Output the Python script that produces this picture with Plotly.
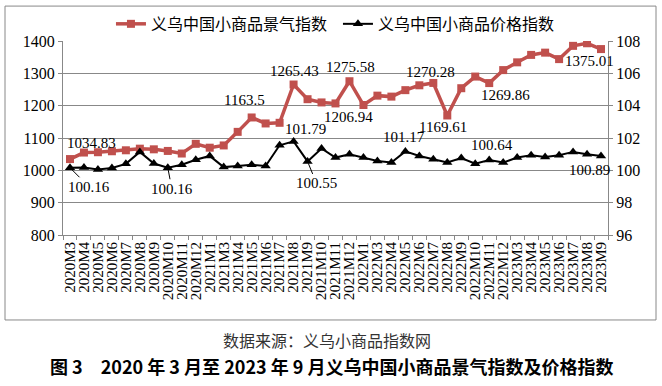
import plotly.graph_objects as go

months = ["2020M3", "2020M4", "2020M5", "2020M6", "2020M7", "2020M8", "2020M9", "2020M10",
          "2020M11", "2020M12", "2021M1", "2021M3", "2021M4", "2021M5", "2021M6", "2021M7",
          "2021M8", "2021M9", "2021M10", "2021M11", "2021M12", "2022M1", "2022M3", "2022M4",
          "2022M5", "2022M6", "2022M7", "2022M8", "2022M9", "2022M10", "2022M11", "2022M12",
          "2023M3", "2023M4", "2023M5", "2023M6", "2023M7", "2023M8", "2023M9"]

jingqi = [1034.83, 1055, 1056, 1059, 1062, 1067, 1065, 1060, 1052, 1082,
          1070, 1077, 1119, 1163.5, 1145, 1147, 1265.43, 1220, 1210, 1206.94,
          1275.58, 1202, 1231, 1228, 1248, 1263, 1270.28, 1169.61, 1254, 1290,
          1269.86, 1310, 1334, 1357, 1364, 1344, 1385, 1393, 1375.01]

jiage = [100.16, 100.18, 100.05, 100.15, 100.40, 101.14, 100.42, 100.16, 100.35, 100.65,
         100.89, 100.20, 100.27, 100.35, 100.27, 101.55, 101.79, 100.55, 101.35, 100.79,
         100.99, 100.79, 100.58, 100.48, 101.17, 100.89, 100.68, 100.48, 100.76, 100.41,
         100.64, 100.48, 100.79, 100.93, 100.83, 100.93, 101.14, 100.99, 100.89]

jingqi_labeled = [0, 13, 16, 19, 20, 26, 27, 30, 38]
jiage_labeled = [0, 7, 16, 17, 24, 30, 38]

# label offsets in pixels (dx right, dy up), leader line flag
jingqi_offsets = {0: (22, 16), 13: (-7, 17), 16: (1, 14), 19: (13, -14), 20: (1, 14),
                  26: (-3, 11), 27: (-4, -12), 30: (16, -12), 38: (-12, -12)}
jiage_offsets = {0: (19, -19, True), 7: (4, -21, True), 16: (12, 12, False), 17: (9, -22, True),
                 24: (-1, 14, False), 30: (3, 15, False), 38: (-12, -14, False)}

RED = "#C0504D"
GRID = "#888888"
serif = "Liberation Serif"
cjk = "Noto Sans CJK SC"

fig = go.Figure()
fig.add_trace(go.Scatter(
    x=months, y=jingqi, name="义乌中国小商品景气指数", mode="lines+markers",
    line=dict(color=RED, width=3.5), marker=dict(symbol="square", size=8, color=RED),
    yaxis="y"))
fig.add_trace(go.Scatter(
    x=months, y=jiage, name="义乌中国小商品价格指数", mode="lines+markers",
    line=dict(color="black", width=2), marker=dict(symbol="triangle-up", size=9, color="black"),
    yaxis="y2"))

annotations = []
for i in jingqi_labeled:
    dx, dy = jingqi_offsets[i]
    annotations.append(dict(x=months[i], y=jingqi[i], xref="x", yref="y",
                            text=f"{jingqi[i]:g}", showarrow=False, xshift=dx, yshift=dy,
                            font=dict(family=serif, size=15, color="black")))
for i in jiage_labeled:
    dx, dy, leader = jiage_offsets[i]
    if leader:
        annotations.append(dict(x=months[i], y=jiage[i], xref="x", yref="y2",
                                text=f"{jiage[i]:.2f}", showarrow=True, arrowhead=0,
                                arrowwidth=1, arrowcolor="black", ax=dx, ay=-dy, standoff=2,
                                font=dict(family=serif, size=15, color="black")))
    else:
        annotations.append(dict(x=months[i], y=jiage[i], xref="x", yref="y2",
                                text=f"{jiage[i]:.2f}", showarrow=False, xshift=dx, yshift=dy,
                                font=dict(family=serif, size=15, color="black")))

annotations.append(dict(x=0.4838, y=-0.541, xref="paper", yref="paper", showarrow=False,
                        text="数据来源：义乌小商品指数网", xanchor="center", yanchor="middle",
                        font=dict(family=cjk, size=16, color="#333333")))
annotations.append(dict(x=0.4936, y=-0.675, xref="paper", yref="paper", showarrow=False,
                        text="<b>图 3　2020 年 3 月至 2023 年 9 月义乌中国小商品景气指数及价格指数</b>",
                        xanchor="center", yanchor="middle",
                        font=dict(family=cjk, size=18, color="black")))

fig.update_layout(
    width=662, height=386,
    margin=dict(l=63, r=54, t=41, b=151, autoexpand=False),
    paper_bgcolor="white", plot_bgcolor="white",
    showlegend=True,
    legend=dict(orientation="h", x=0.088, xanchor="left", y=1.088, yanchor="middle",
                font=dict(family=cjk, size=16, color="black"), bgcolor="rgba(0,0,0,0)",
                entrywidth=182, entrywidthmode="pixels"),
    annotations=annotations,
    shapes=[dict(type="rect", xref="paper", yref="paper", x0=-0.1064, x1=1.0881,
                 y0=-0.438, y1=1.180, line=dict(color=GRID, width=1), layer="below")],
    xaxis=dict(type="category", tickmode="array", tickvals=months, ticktext=months,
               tickangle=-90, tickson="boundaries", ticks="outside",
               ticklen=4, tickcolor=GRID, showline=True, linecolor=GRID, linewidth=1,
               showgrid=False, tickfont=dict(family=serif, size=15, color="black"),
               range=[-0.5, len(months) - 0.5]),
    yaxis=dict(range=[800, 1400], dtick=100, showgrid=True, gridcolor=GRID, gridwidth=1,
               showline=True, linecolor=GRID, ticks="outside", ticklen=4, tickcolor=GRID,
               tickfont=dict(family=serif, size=16, color="black"), zeroline=False),
    yaxis2=dict(range=[96, 108], dtick=2, overlaying="y", side="right", showgrid=False,
                showline=True, linecolor=GRID, ticks="outside", ticklen=4, tickcolor=GRID,
                tickfont=dict(family=serif, size=16, color="black"), zeroline=False),
)

fig.write_html("out.html", config={"displayModeBar": False},
               post_script="document.body.style.margin='0';document.body.style.padding='0';")
